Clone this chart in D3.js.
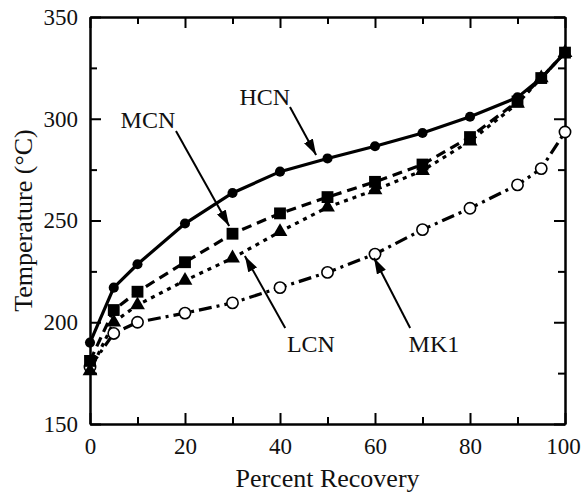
<!DOCTYPE html>
<html>
<head>
<meta charset="utf-8">
<script src="https://cdn.jsdelivr.net/npm/d3@7"></script>
<style>
  body { margin: 0; background: #fff; }
  svg text { font-family: "Liberation Serif", "Times New Roman", serif; fill: #111; }
  .axis path, .axis line { stroke: #000; stroke-width: 2; }
</style>
</head>
<body>
<div id="container"></div>
<script>
// percent recovered
var recovery = [0, 5, 10, 20, 30, 40, 50, 60, 70, 80, 90, 95, 100];

// boiling temperatures (deg C) per fuel
var hcnTemps = [190, 217, 228.5, 248.5, 263.5, 274, 280.5, 286.5, 293, 301, 310.5, 320, 332.5];
var mcnTemps = [181, 206, 215, 229.5, 243.5, 253.5, 261.5, 269, 277.5, 291, 308.5, 320, 332.5];
var lcnTemps = [176, 200, 208.5, 220.5, 231.5, 244.5, 256.5, 265, 274.5, 289, 307.5, 320, 332.5];
var mk1Temps = [178, 194.5, 200, 204.5, 209.5, 217, 224.5, 233.5, 245.5, 256, 267.5, 275.5, 293.5];

var xTicks = [0, 20, 40, 60, 80, 100];
var xMinor = [10, 30, 50, 70, 90];
var yTicks = [150, 200, 250, 300, 350];
var yMinor = [175, 225, 275, 325];

// annotation labels, in data units: text spot, arrow start, arrow tip
var labelNames = ["HCN", "MCN", "LCN", "MK1"];
var labelAt = [[36.8, 306.8], [12.2, 295.5], [46.5, 185.4], [72.4, 185.4]];
var arrowFrom = [[42.1, 305.8], [18.1, 294], [41.1, 197.2], [67.4, 197.2]];
var arrowTo = [[47.6, 282.2], [29.3, 247.3], [32.6, 232.6], [59.8, 231.6]];

function drawChart() {
  var W = 581, H = 498;
  var m = {left: 90, top: 17, right: 16, bottom: 74};
  var w = W - m.left - m.right, h = H - m.top - m.bottom;

  var svg = d3.select("#container").append("svg")
    .attr("width", W).attr("height", H);

  svg.append("defs").append("marker")
    .attr("id", "head")
    .attr("viewBox", "0 0 16 10")
    .attr("refX", 16).attr("refY", 5)
    .attr("markerWidth", 16).attr("markerHeight", 10)
    .attr("markerUnits", "userSpaceOnUse")
    .attr("orient", "auto")
    .append("path").attr("d", "M0,0 L16,5 L0,10 Z").attr("fill", "#000");

  var g = svg.append("g").attr("transform", "translate(" + m.left + "," + m.top + ")");

  var x = d3.scaleLinear().domain([0, 100]).range([0, w]);
  var y = d3.scaleLinear().domain([150, 350]).range([h, 0]);

  // axes with inward ticks on all four sides
  g.append("g").attr("class", "axis").attr("transform", "translate(0," + h + ")")
    .call(d3.axisBottom(x).tickValues(xTicks).tickSize(-11).tickPadding(14).tickSizeOuter(0))
    .selectAll("text").style("font-size", "23px")
    .attr("dx", function (d) {return d == 100 ? "-2px" : null;}); // keep "100" inside the page
  g.append("g").attr("class", "axis").attr("transform", "translate(0," + h + ")")
    .call(d3.axisBottom(x).tickValues(xMinor).tickSize(-7).tickFormat("").tickSizeOuter(0));
  g.append("g").attr("class", "axis")
    .call(d3.axisTop(x).tickValues(xTicks).tickSize(-11).tickFormat("").tickSizeOuter(0));
  g.append("g").attr("class", "axis")
    .call(d3.axisTop(x).tickValues(xMinor).tickSize(-7).tickFormat("").tickSizeOuter(0));

  g.append("g").attr("class", "axis")
    .call(d3.axisLeft(y).tickValues(yTicks).tickSize(-11).tickPadding(12).tickSizeOuter(0))
    .selectAll("text").style("font-size", "23px");
  g.append("g").attr("class", "axis")
    .call(d3.axisLeft(y).tickValues(yMinor).tickSize(-7).tickFormat("").tickSizeOuter(0));
  g.append("g").attr("class", "axis").attr("transform", "translate(" + w + ",0)")
    .call(d3.axisRight(y).tickValues(yTicks).tickSize(-11).tickFormat("").tickSizeOuter(0));
  g.append("g").attr("class", "axis").attr("transform", "translate(" + w + ",0)")
    .call(d3.axisRight(y).tickValues(yMinor).tickSize(-7).tickFormat("").tickSizeOuter(0));

  g.selectAll(".axis .domain").attr("stroke-width", 2);

  // axis titles
  svg.append("text")
    .attr("x", m.left + w / 2).attr("y", H - 11)
    .attr("text-anchor", "middle").style("font-size", "26px")
    .text("Percent Recovery");
  svg.append("text")
    .attr("transform", "translate(32," + (m.top + h / 2) + ") rotate(-90)")
    .attr("text-anchor", "middle").style("font-size", "26px")
    .text("Temperature (\u00B0C)");

  var line = d3.line().x(function (d) {return x(d[0]);}).y(function (d) {return y(d[1]);});
  function pts(temps) {return recovery.map(function (r, i) {return [r, temps[i]];});}

  var series = [
    {temps: mk1Temps, dash: "13,5,3,5", marker: "open"},
    {temps: lcnTemps, dash: "4,5", marker: "tri"},
    {temps: mcnTemps, dash: "10,6", marker: "sq"},
    {temps: hcnTemps, dash: null, marker: "dot"}
  ];

  series.forEach(function (s) {
    g.append("path")
      .attr("d", line(pts(s.temps)))
      .attr("fill", "none").attr("stroke", "#000")
      .attr("stroke-width", 3.2)
      .attr("stroke-dasharray", s.dash);
  });

  var sym = {
    open: d3.symbol().type(d3.symbolCircle).size(100),
    tri: d3.symbol().type(d3.symbolTriangle).size(95),
    sq: d3.symbol().type(d3.symbolSquare).size(140),
    dot: d3.symbol().type(d3.symbolCircle).size(80)
  };

  // draw markers; squares last on top at the shared end points
  [series[0], series[1], series[3], series[2]].forEach(function (s) {
    g.append("g").selectAll("path")
      .data(pts(s.temps))
      .enter().append("path")
      .attr("transform", function (d) {return "translate(" + x(d[0]) + "," + y(d[1]) + ")";})
      .attr("d", sym[s.marker])
      .attr("fill", s.marker == "open" ? "#fff" : "#000")
      .attr("stroke", "#000")
      .attr("stroke-width", s.marker == "open" ? 1.6 : 0);
  });

  // labels and arrows
  labelNames.forEach(function (name, i) {
    g.append("line")
      .attr("x1", x(arrowFrom[i][0])).attr("y1", y(arrowFrom[i][1]))
      .attr("x2", x(arrowTo[i][0])).attr("y2", y(arrowTo[i][1]))
      .attr("stroke", "#000").attr("stroke-width", 2)
      .attr("marker-end", "url(#head)");
    g.append("text")
      .attr("x", x(labelAt[i][0])).attr("y", y(labelAt[i][1]))
      .attr("text-anchor", "middle").style("font-size", "24px")
      .text(name);
  });
}

drawChart();
</script>
</body>
</html>
